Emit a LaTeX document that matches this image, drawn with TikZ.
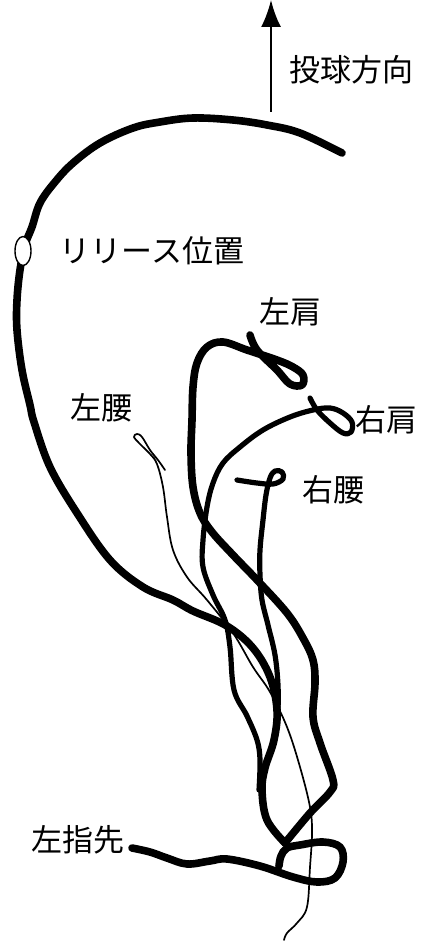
\documentclass[tikz,border=0pt]{standalone}
\usepackage{fontspec}
\newfontfamily\jp{Noto Sans CJK JP}
\usetikzlibrary{arrows.meta,shapes.geometric}
\tikzset{
  thickpath/.style={line width=7.6pt, line cap=round, line join=round},
  midpath/.style={line width=5.2pt, line cap=round, line join=round},
  thinpath/.style={line width=1.7pt, line cap=round, line join=round},
  lbl/.style={inner sep=0pt, font=\jp\fontsize{31}{31}\selectfont},
}
\begin{document}
\begin{tikzpicture}[x=1pt,y=-1pt]
\useasboundingbox (0,0) rectangle (422,944);

% direction arrow
\coordinate (arrowfoot) at (271,112);
\coordinate (arrowtip) at (271,0);
\draw[line width=2.2pt, -{Latex[length=27pt,width=20pt]}] (arrowfoot) -- (arrowtip);
\node[lbl] (dir) at (351,70) {投球方向};

% outer trajectory
\draw[thickpath] plot[smooth, tension=0.6] coordinates {
 (342,153) (300,133) (267,125) (233,120) (193,118) (160,122) (133,128)
 (100,143) (73,163) (55,182) (40,203) (32,227) (25,245) (20,270) (17,300)
 (17,330) (22,370) (30,405) (34,422) (50,467) (77,513) (110,560) (143,587)
 (173,600) (193,611) (227,626) (253,648) (270,677) (277,710) (274,740)
 (265,768) (262,790) (267,820) (285,843)};

% release marker
\node[draw, ellipse, fill=white, line width=1.4pt, minimum width=16pt,
      minimum height=29pt, inner sep=0pt] (release) at (23,251) {};
\node[lbl] (rel) at (152,251) {リリース位置};

% left fingertip bottom curve
\draw[thickpath] plot[smooth, tension=0.6] coordinates {
 (132,848) (150,852) (167,858) (187,864) (210,861) (227,859) (260,866)
 (293,877) (317,882) (335,878) (343,862) (340,847) (323,842) (300,845)
 (287,848) (281,856) (279,866)};
\node[lbl] (finger) at (78,840) {左指先};

% left shoulder
\draw[thickpath] plot[smooth, tension=0.6] coordinates {
 (250,335) (257,350) (277,370) (290,384) (302,385) (303,375) (293,367)
 (277,360) (247,350) (223,342) (207,347) (197,363) (193,387) (192,420)
 (191,453) (193,487) (200,513) (212,532) (233,555) (258,581) (287,613)
 (303,638) (313,660) (315,683) (313,717) (320,743) (333,780) (330,792)
 (310,813) (285,843)};
\node[lbl] (lsh) at (290,312) {左肩};

% right shoulder
\draw[midpath] plot[smooth, tension=0.6] coordinates {
 (310,398) (317,410) (330,423) (343,433) (351,432) (352,422) (343,413)
 (330,408) (313,410) (290,417) (263,430) (240,447) (223,463) (213,483)
 (207,507) (203,540) (203,567) (213,595) (225,620) (230,647) (234,690)
 (247,716) (257,740) (260,760) (259,790)};
\node[lbl] (rsh) at (386,420) {右肩};

% right hip
\draw[midpath] plot[smooth, tension=0.6] coordinates {
 (237,480) (257,483) (273,484) (283,479) (282,472) (275,471) (270,478)
 (266,495) (263,520) (260,550) (260,575) (262,600) (268,625) (275,655)
 (278,685) (278,712)};
\node[lbl] (rhip) at (333,490) {右腰};

% left hip
\draw[thinpath] plot[smooth, tension=0.6] coordinates {
 (165,470) (158,460) (150,450) (142,437) (137,434) (134,437) (140,444)
 (150,454) (157,464) (163,487) (167,517) (173,550) (187,577) (207,600)
 (233,633) (253,667) (270,692) (287,727) (300,767) (310,807) (312,833)
 (310,867) (307,907) (297,923) (287,933) (284,940)};
\node[lbl] (lhip) at (101,408) {左腰};
\end{tikzpicture}
\end{document}
